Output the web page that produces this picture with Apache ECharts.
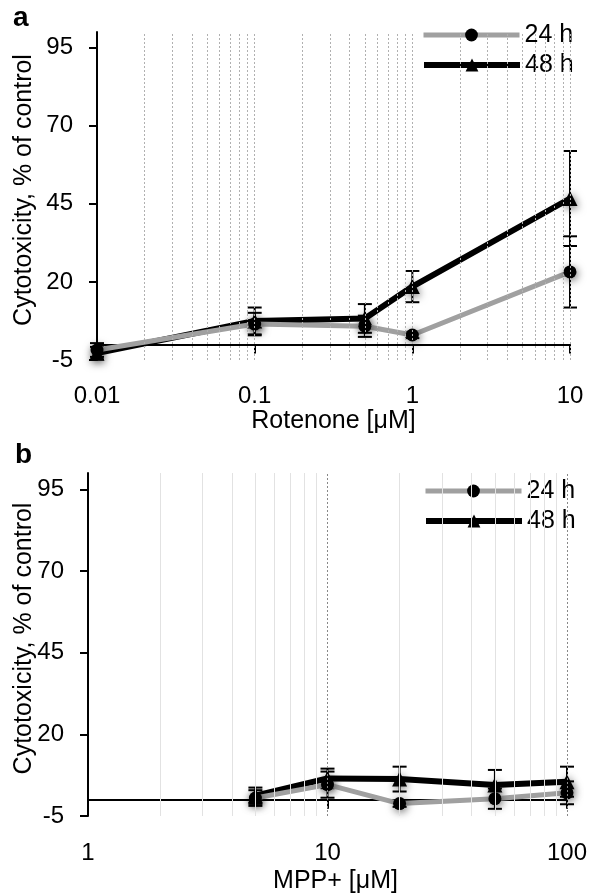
<!DOCTYPE html>
<html>
<head>
<meta charset="utf-8">
<script src="https://cdn.jsdelivr.net/npm/echarts@6/dist/echarts.min.js"></script>
<style>
html,body{margin:0;padding:0;background:#fff;}
#chart{width:590px;height:894px;}
</style>
</head>
<body>
<div id="chart"></div>
<script>
// ---------- data ----------
const seriesNames = ['24 h', '48 h'];
// Panel a: Rotenone
const topX = [0.01, 0.1, 0.5, 1, 10];
const top24 = [-1.8, 6.5, 5.8, 3.0, 23.2];
const top24Err = [2.2, 3.6, 3.4, 1.0, 11.4];
const top48 = [-2.8, 7.5, 8.3, 18.5, 46.7];
const top48Err = [2.0, 4.3, 4.6, 5.0, 15.2];
// Panel b: MPP+
const botX = [5, 10, 20, 50, 100];
const bot24 = [0.5, 4.6, -1.2, 0.3, 2.1];
const bot24Err = [2.4, 4.0, 1.0, 3.1, 3.5];
const bot48 = [1.2, 6.5, 6.3, 4.5, 5.5];
const bot48Err = [2.5, 3.0, 3.8, 4.6, 4.6];
// axes
const yTicks = [-5, 20, 45, 70, 95];
const topMinorGrid = [0.02, 0.03, 0.04, 0.05, 0.06, 0.07, 0.08, 0.09, 0.1,
                      0.2, 0.3, 0.4, 0.5, 0.6, 0.7, 0.8, 0.9, 1,
                      2, 3, 4, 5, 6, 7, 8, 9, 10];
const botMinorGrid = [2, 3, 4, 5, 6, 7, 8, 9, 20, 30, 40, 50, 60, 70, 80, 90];
const botMajorGrid = [10, 100];

// ---------- helpers ----------
const FONT = '"Liberation Sans", Arial, sans-serif';
function pts(xs, ys) { return xs.map((x, i) => [x, ys[i]]); }
function errData(xs, ys, es) { return xs.map((x, i) => [x, ys[i] - es[i], ys[i] + es[i]]); }
function errRender(params, api) {
  const x = api.value(0), lo = api.value(1), hi = api.value(2);
  const p1 = api.coord([x, hi]), p2 = api.coord([x, lo]);
  const w = 7;
  const style = { stroke: '#000', lineWidth: 2 };
  return {
    type: 'group', children: [
      { type: 'line', shape: { x1: p1[0], y1: p1[1], x2: p2[0], y2: p2[1] }, style },
      { type: 'line', shape: { x1: p1[0] - w, y1: p1[1], x2: p1[0] + w, y2: p1[1] }, style },
      { type: 'line', shape: { x1: p2[0] - w, y1: p2[1], x2: p2[0] + w, y2: p2[1] }, style }
    ]
  };
}
const shadow = { shadowBlur: 8, shadowColor: 'rgba(0,0,0,0.6)', shadowOffsetX: 1, shadowOffsetY: 2 };
const GREY = '#a0a0a0';
function lineSeries(name, idx, data, grey) {
  return {
    type: 'line', name: name, xAxisIndex: idx, yAxisIndex: idx, data: data,
    symbol: grey ? 'circle' : 'triangle', symbolSize: grey ? 13 : 15,
    lineStyle: { color: grey ? GREY : '#000', width: grey ? 5 : 6 },
    itemStyle: Object.assign({ color: '#000' }, shadow),
    z: grey ? 4 : 3, animation: false
  };
}
function errSeries(idx, data) {
  return { type: 'custom', xAxisIndex: idx, yAxisIndex: idx, data: data,
           renderItem: errRender, encode: { x: 0, y: [1, 2] }, z: 2, animation: false, silent: true };
}
function gridSeries(idx, vals, style) {
  return {
    type: 'line', xAxisIndex: idx, yAxisIndex: idx, data: [], z: 1, silent: true, animation: false,
    markLine: { symbol: ['none', 'none'], silent: true, animation: false, label: { show: false },
                lineStyle: style, data: vals.map(v => ({ xAxis: v })) }
  };
}
function xAxisCfg(idx, min, max, name, gap, pad, margin) {
  return {
    type: 'log', logBase: 10, gridIndex: idx, min: min, max: max,
    name: name, nameLocation: 'middle', nameGap: gap, nameMoveOverlap: false,
    nameTextStyle: { fontSize: 25, color: '#000', fontFamily: FONT, padding: pad },
    axisLine: { onZero: true, lineStyle: { color: '#000', width: 2 } },
    axisTick: { show: true, length: 9, lineStyle: { color: '#000', width: 2 } },
    axisLabel: { fontSize: 24, color: '#000', fontFamily: FONT, margin: margin,
                 formatter: v => String(+(+v).toPrecision(3)) },
    splitLine: { show: false }, minorTick: { show: false }
  };
}
function yAxisCfg(idx, gap, margin) {
  return {
    type: 'value', gridIndex: idx, min: -5, max: 100, interval: 25,
    name: 'Cytotoxicity, % of control', nameLocation: 'middle', nameGap: gap, nameMoveOverlap: false,
    nameTextStyle: { fontSize: 25, color: '#000', fontFamily: FONT, padding: [0, 0, 0, 12] },
    axisLine: { show: true, onZero: false, lineStyle: { color: '#000', width: 2 } },
    axisTick: { show: true, length: 8, customValues: yTicks, lineStyle: { color: '#000', width: 2 } },
    axisLabel: { fontSize: 24, color: '#000', fontFamily: FONT, margin: margin,
                 formatter: v => (yTicks.indexOf(v) >= 0 ? String(v) : '') },
    splitLine: { show: false }
  };
}
function legendCfg(name, left, top, lw, lc) {
  return {
    data: [name], left: left, top: top, itemWidth: 96, itemHeight: 16, itemGap: 0,
    selectedMode: false,
    lineStyle: { width: lw, color: lc },
    textStyle: { fontSize: 25, color: '#000', fontFamily: FONT, lineHeight: 26 }
  };
}

const chart = echarts.init(document.getElementById('chart'), null, { renderer: 'canvas' });
const option = {
  backgroundColor: '#fff',
  animation: false,
  grid: [
    { left: 97, right: 20, top: 32, bottom: 534, outerBoundsMode: 'none', containLabel: false },
    { left: 88, right: 23, top: 473, bottom: 78, outerBoundsMode: 'none', containLabel: false }
  ],
  xAxis: [
    xAxisCfg(0, 0.01, 10, 'Rotenone [μM]', 49, [0, 0, 0, 0], 24),
    xAxisCfg(1, 1, 100, 'MPP+ [μM]', 53, [0, 0, 0, 16], 25)
  ],
  yAxis: [yAxisCfg(0, 60, 24), yAxisCfg(1, 51, 24)],
  legend: [
    legendCfg(seriesNames[0], 416, 17, 5, GREY),
    legendCfg(seriesNames[1], 416, 47, 6, '#000'),
    legendCfg(seriesNames[0], 418, 473, 5, GREY),
    legendCfg(seriesNames[1], 418, 503, 6, '#000')
  ],
  graphic: [
    { type: 'text', left: 13, top: 4, style: { text: 'a', font: 'bold 28px ' + FONT, fill: '#000' } },
    { type: 'text', left: 15, top: 441, style: { text: 'b', font: 'bold 28px ' + FONT, fill: '#000' } }
  ],
  series: [
    gridSeries(0, topMinorGrid, { color: '#b0b0b0', width: 1, type: [2, 2] }),
    gridSeries(1, botMinorGrid, { color: '#e2e2e2', width: 1, type: 'solid' }),
    gridSeries(1, botMajorGrid, { color: '#888', width: 1, type: [2, 2] }),
    errSeries(0, errData(topX, top48, top48Err)),
    errSeries(0, errData(topX, top24, top24Err)),
    errSeries(1, errData(botX, bot48, bot48Err)),
    errSeries(1, errData(botX, bot24, bot24Err)),
    lineSeries(seriesNames[1], 0, pts(topX, top48), false),
    lineSeries(seriesNames[0], 0, pts(topX, top24), true),
    lineSeries(seriesNames[1], 1, pts(botX, bot48), false),
    lineSeries(seriesNames[0], 1, pts(botX, bot24), true)
  ]
};
chart.setOption(option);
</script>
</body>
</html>
